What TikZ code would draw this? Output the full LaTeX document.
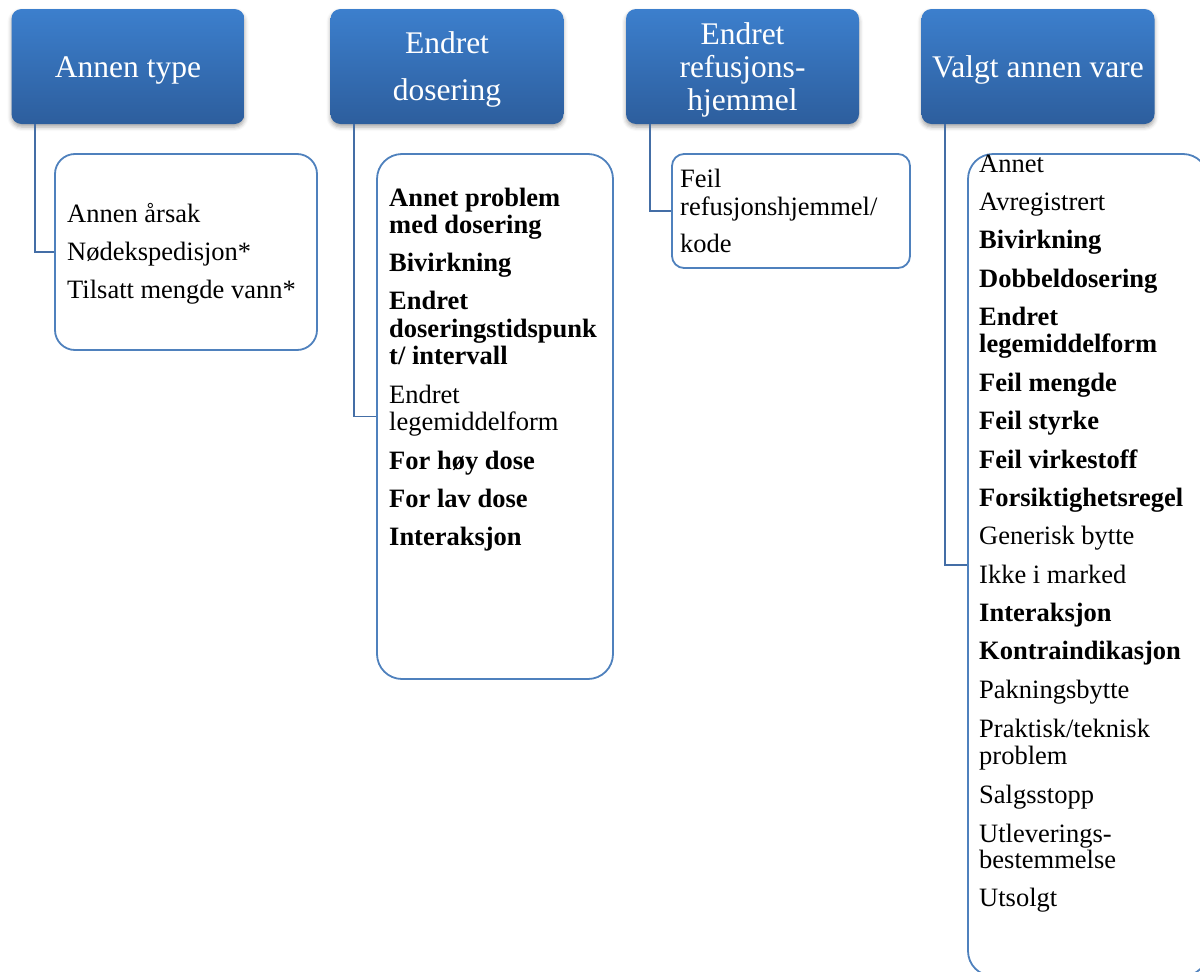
\documentclass[tikz,border=0pt]{standalone}
\usepackage{fontspec}
\setmainfont{Liberation Serif}
\usetikzlibrary{shadows.blur}
\definecolor{hdrtop}{RGB}{60,127,205}
\definecolor{hdrbot}{RGB}{45,94,157}
\definecolor{boxline}{RGB}{79,129,189}
\definecolor{linkline}{RGB}{68,110,166}
\tikzset{
  % the strut sets how far the text block sits below the middle of the header
  hdr/.style={rectangle, rounded corners=10pt, top color=hdrtop, bottom color=hdrbot,
    draw=none, text=white, align=center, inner sep=0pt,
    font=\fontsize{31.5}{33}\selectfont,
    minimum width=233pt, minimum height=115pt,
    execute at begin node={\rule{0pt}{#1}},
    blur shadow={shadow xshift=0pt, shadow yshift=-3pt, shadow blur radius=4pt, shadow opacity=35}},
  hdr/.default=28.5pt,
  cbox/.style={rectangle, draw=boxline, line width=1.8pt, fill=white, inner sep=0pt},
  link/.style={draw=linkline, line width=1.9pt},
  item/.style={anchor=base west, inner sep=0pt, font=\fontsize{26.5}{27}\selectfont},
}
\begin{document}
\begin{tikzpicture}[x=1pt,y=-1pt]
\useasboundingbox (0,0) rectangle (1200,972);
\clip (0,0) rectangle (1200,972);

% category headers
\node[hdr] (h1) at (128,66.5) {Annen type};
\node[hdr=75pt] (h2) at (447,66.5) {Endret\\[14pt]dosering};
\node[hdr=95pt] (h3) at (742.5,66.5) {Endret\\refusjons-\\hjemmel};
\node[hdr] (h4) at (1038,66.5) {Valgt annen vare};

% detail boxes
\node[cbox, rounded corners=20pt, minimum width=262pt, minimum height=196pt] (c1) at (186,252) {};
\node[cbox, rounded corners=25pt, minimum width=236pt, minimum height=525pt] (c2) at (495,416.5) {};
\node[cbox, rounded corners=12pt, minimum width=238pt, minimum height=114pt] (c3) at (791,211) {};
\node[cbox, rounded corners=25pt, minimum width=240pt, minimum height=822pt] (c4) at (1088,565) {};

% connectors
\draw[link] ([xshift=24pt]h1.south west) |- (c1.west);
\draw[link] ([xshift=24pt]h2.south west) |- (c2.west);
\draw[link] ([xshift=24pt]h3.south west) |- (c3.west);
\draw[link] ([xshift=24pt]h4.south west) |- (c4.west);

% Annen type
\node[item] (a1) at (67,222) {Annen årsak};
\node[item] (a2) at (67,260) {Nødekspedisjon*};
\node[item] (a3) at (67,298) {Tilsatt mengde vann*};

% Endret dosering
\node[item] (b1)  at (389,206) {\textbf{Annet problem}};
\node[item] (b1b) at (389,233) {\textbf{med dosering}};
\node[item] (b2)  at (389,271) {\textbf{Bivirkning}};
\node[item] (b3)  at (389,309) {\textbf{Endret}};
\node[item] (b3b) at (389,337) {\textbf{doseringstidspunk}};
\node[item] (b3c) at (389,364) {\textbf{t/ intervall}};
\node[item] (b4)  at (389,403) {Endret};
\node[item] (b4b) at (389,430) {legemiddelform};
\node[item] (b5)  at (389,469) {\textbf{For høy dose}};
\node[item] (b6)  at (389,507) {\textbf{For lav dose}};
\node[item] (b7)  at (389,545) {\textbf{Interaksjon}};

% Endret refusjonshjemmel
\node[item] (r1)  at (680,187) {Feil};
\node[item] (r1b) at (680,215) {refusjonshjemmel/};
\node[item] (r1c) at (680,252) {kode};

% Valgt annen vare
\node[item] (v1)   at (979,172) {Annet};
\node[item] (v2)   at (979,210) {Avregistrert};
\node[item] (v3)   at (979,248) {\textbf{Bivirkning}};
\node[item] (v4)   at (979,287) {\textbf{Dobbeldosering}};
\node[item] (v5)   at (979,325) {\textbf{Endret}};
\node[item] (v5b)  at (979,352) {\textbf{legemiddelform}};
\node[item] (v6)   at (979,391) {\textbf{Feil mengde}};
\node[item] (v7)   at (979,429) {\textbf{Feil styrke}};
\node[item] (v8)   at (979,468) {\textbf{Feil virkestoff}};
\node[item] (v9)   at (979,506) {\textbf{Forsiktighetsregel}};
\node[item] (v10)  at (979,544) {Generisk bytte};
\node[item] (v11)  at (979,583) {Ikke i marked};
\node[item] (v12)  at (979,621) {\textbf{Interaksjon}};
\node[item] (v13)  at (979,659) {\textbf{Kontraindikasjon}};
\node[item] (v14)  at (979,698) {Pakningsbytte};
\node[item] (v15)  at (979,737) {Praktisk/teknisk};
\node[item] (v15b) at (979,764) {problem};
\node[item] (v16)  at (979,803) {Salgsstopp};
\node[item] (v17)  at (979,842) {Utleverings-};
\node[item] (v17b) at (979,868) {bestemmelse};
\node[item] (v18)  at (979,906) {Utsolgt};
\end{tikzpicture}
\end{document}
